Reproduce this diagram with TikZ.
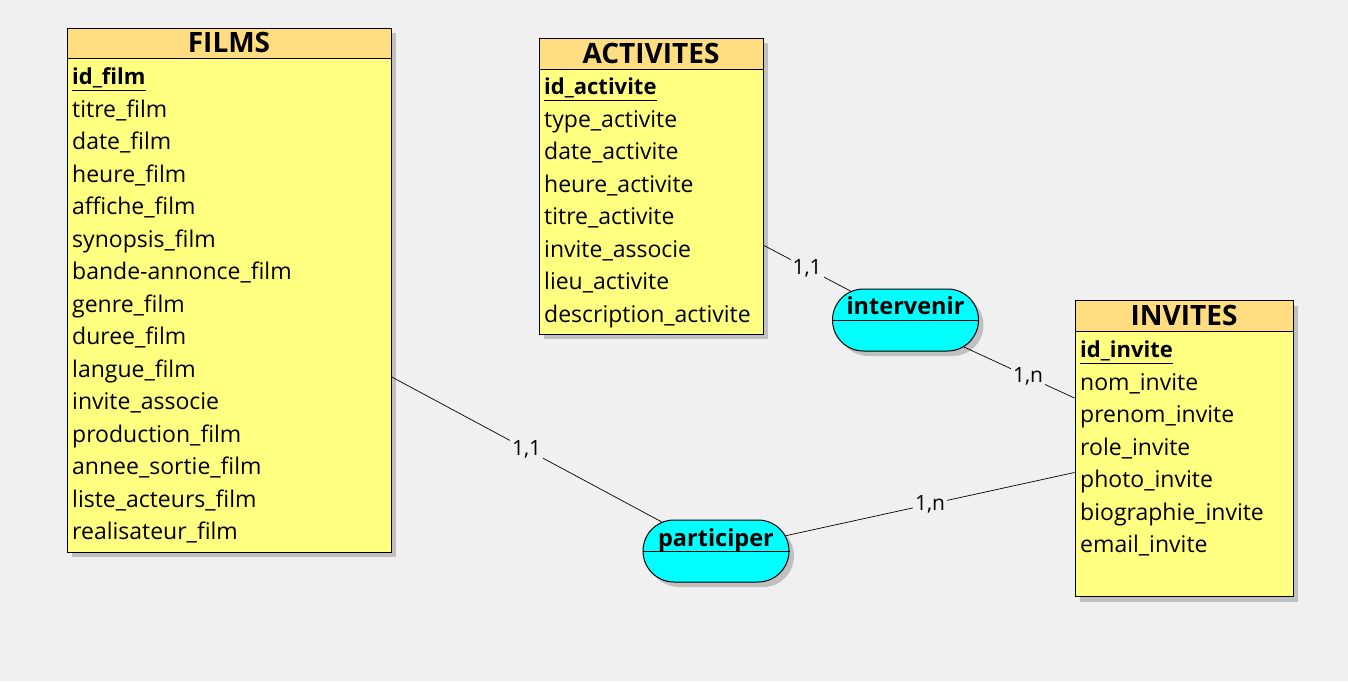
\documentclass[tikz,border=0pt]{standalone}
\usepackage{fontspec}
\setmainfont{Open Sans}
\usetikzlibrary{shapes.misc,shadows}
\definecolor{bg}{HTML}{F0F0F0}
\definecolor{hdr}{HTML}{FFDD80}
\definecolor{body}{HTML}{FFFF80}
\definecolor{assoc}{HTML}{00FFFF}
\definecolor{shad}{HTML}{C0C0C0}
\tikzset{
  ent/.style={draw=black, line width=1pt, fill=body, inner sep=0pt,
    drop shadow={shadow xshift=5pt, shadow yshift=-5pt, fill=shad, opacity=1}},
  hdrbox/.style={draw=black, line width=1pt, fill=hdr},
  hdrtxt/.style={font=\fontsize{28}{32}\selectfont\bfseries, inner sep=0pt, anchor=base},
  attr/.style={font=\fontsize{23}{27}\selectfont, anchor=base west, inner sep=0pt},
  keyattr/.style={font=\fontsize{22}{26}\selectfont\bfseries, anchor=base west, inner sep=0pt},
  asso/.style={rounded rectangle, draw=black, line width=1pt, fill=assoc, inner sep=0pt,
    minimum width=146pt, minimum height=62pt,
    drop shadow={shadow xshift=5pt, shadow yshift=-5pt, fill=shad, opacity=1}},
  assotxt/.style={font=\fontsize{23.5}{27}\selectfont\bfseries, inner sep=0pt, anchor=base},
  link/.style={draw=black, line width=0.7pt},
  card/.style={font=\fontsize{21}{24}\selectfont, fill=bg, inner sep=2pt}
}
\begin{document}
\begin{tikzpicture}[x=1pt,y=-1pt]
\fill[bg] (0,0) rectangle (1348,681);
\useasboundingbox (0,0) rectangle (1348,681);

% FILMS
\node[ent, minimum width=324pt, minimum height=524pt] (films) at (229,290) {};
\draw[hdrbox] (67,28) rectangle (391,58);
\node[hdrtxt] (filmsT) at (229,52.5) {FILMS};
\node[keyattr] (f0) at (72,84.5) {id\_film};
\draw[line width=1pt] (72,90) -- (f0.east |- 0,90);
\foreach \t [count=\i] in {titre\_film,date\_film,heure\_film,affiche\_film,synopsis\_film,bande-annonce\_film,genre\_film,duree\_film,langue\_film,invite\_associe,production\_film,annee\_sortie\_film,liste\_acteurs\_film,realisateur\_film}
  \node[attr] (f\i) at (72,84.5+32.5*\i) {\t};

% ACTIVITES
\node[ent, minimum width=224pt, minimum height=296pt] (act) at (651,186) {};
\draw[hdrbox] (539,38) rectangle (763,69);
\node[hdrtxt] (actT) at (651,63) {ACTIVITES};
\node[keyattr] (a0) at (544,94.5) {id\_activite};
\draw[line width=1pt] (544,100) -- (a0.east |- 0,100);
\foreach \t [count=\i] in {type\_activite,date\_activite,heure\_activite,titre\_activite,invite\_associe,lieu\_activite,description\_activite}
  \node[attr] (a\i) at (544,94.5+32.5*\i) {\t};

% INVITES
\node[ent, minimum width=218pt, minimum height=296pt] (inv) at (1184,448.5) {};
\draw[hdrbox] (1075,300.5) rectangle (1293,331.5);
\node[hdrtxt] (invT) at (1184,325.7) {INVITES};
\node[keyattr] (i0) at (1080,357.5) {id\_invite};
\draw[line width=1pt] (1080,363) -- (i0.east |- 0,363);
\foreach \t [count=\i] in {nom\_invite,prenom\_invite,role\_invite,photo\_invite,biographie\_invite,email\_invite}
  \node[attr] (i\i) at (1080,357.5+32.5*\i) {\t};

% associations
\node[asso] (part) at (716,551) {};
\draw[line width=1pt] (part.west) -- (part.east);
\node[assotxt] (partT) at (716,546.5) {participer};

\node[asso] (interv) at (905.5,320) {};
\draw[line width=1pt] (interv.west) -- (interv.east);
\node[assotxt] (intervT) at (905.5,314.3) {intervenir};

% links
\draw[link] (films) -- node[card] {1,1} (part);
\draw[link] (part) -- node[card] {1,n} (inv);
\draw[link] (act) -- node[card] {1,1} (interv);
\draw[link] (interv) -- node[card, pos=0.58] {1,n} (inv);
\end{tikzpicture}
\end{document}
